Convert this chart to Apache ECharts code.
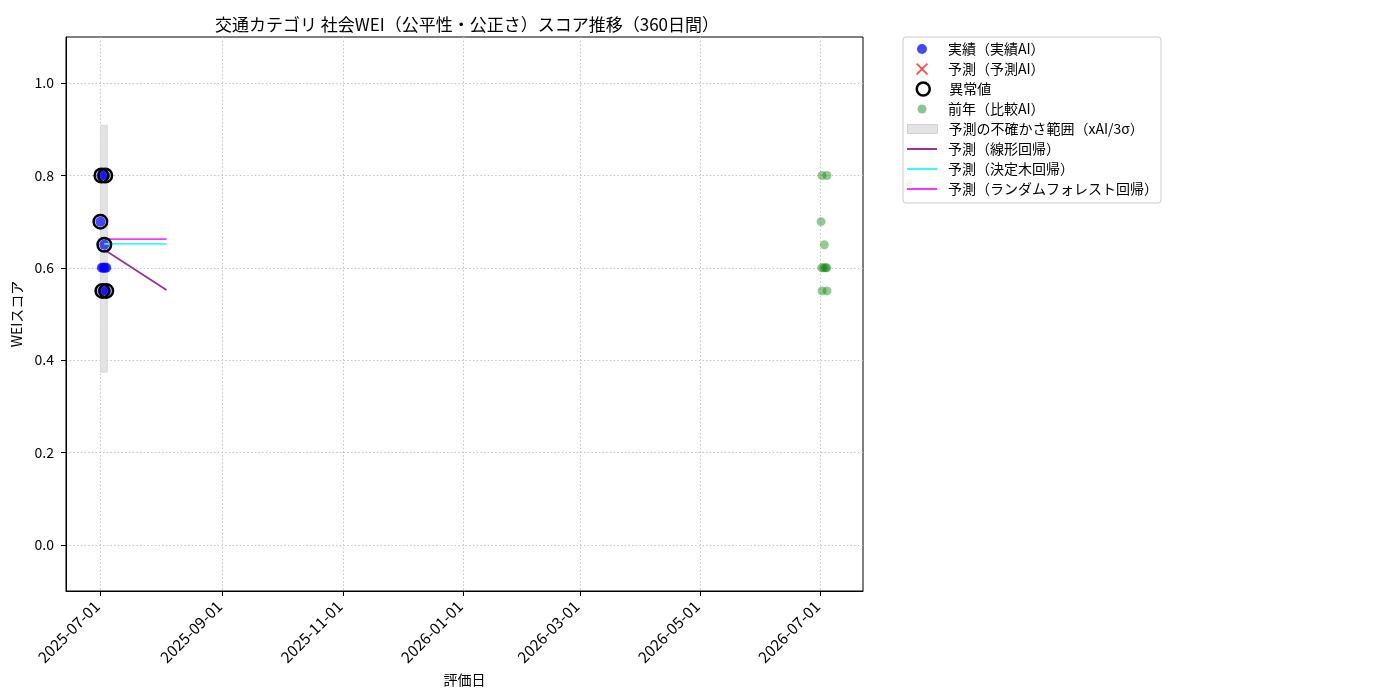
<!DOCTYPE html>
<html>
<head>
<meta charset="utf-8">
<script src="https://cdn.jsdelivr.net/npm/echarts@6/dist/echarts.min.js"></script>
<style>
  html, body { margin: 0; padding: 0; background: #fff; }
  #main { width: 1400px; height: 700px; }
</style>
</head>
<body>
<div id="main"></div>
<script>
// 実績（実績AI）
var actualDates = [
    '2025-07-01 12:00', '2025-07-03 12:00', '2025-07-01 00:00', '2025-07-03 00:00',
    '2025-07-01 18:00', '2025-07-02 12:00', '2025-07-03 06:00', '2025-07-04 00:00',
    '2025-07-02 00:00', '2025-07-04 00:00'
];
var actualValues = [0.80, 0.80, 0.70, 0.65, 0.60, 0.60, 0.60, 0.60, 0.55, 0.55];

// 異常値
var anomalyDates = [
    '2025-07-01 12:00', '2025-07-03 12:00', '2025-07-01 00:00', '2025-07-03 00:00',
    '2025-07-02 00:00', '2025-07-04 00:00'
];
var anomalyValues = [0.80, 0.80, 0.70, 0.65, 0.55, 0.55];

// 前年（比較AI）
var prevDates = [
    '2026-07-01 16:00', '2026-07-04 04:00', '2026-07-01 04:00', '2026-07-02 20:00',
    '2026-07-01 12:00', '2026-07-02 12:00', '2026-07-03 12:00', '2026-07-04 04:00',
    '2026-07-01 16:00', '2026-07-04 04:00'
];
var prevValues = [0.80, 0.80, 0.70, 0.65, 0.60, 0.60, 0.60, 0.60, 0.55, 0.55];

// 予測の不確かさ範囲
var bandDates = ['2025-07-01', '2025-07-04 12:00'];
var bandLower = [0.374, 0.374];
var bandUpper = [0.909, 0.909];

// 予測ライン
var forecastDates = ['2025-07-03', '2025-08-03 12:00'];
var linearValues = [0.639, 0.552];
var treeValues = [0.652, 0.652];
var forestValues = [0.662, 0.662];

var xMin = '2025-06-13 14:00';
var xMax = '2026-07-22 10:00';

function pairs(dates, values) {
    return dates.map(function (d, i) { return [d, values[i]]; });
}
function pad(n) { return n < 10 ? '0' + n : '' + n; }

var FONT = '"Noto Sans CJK JP", "Noto Sans", sans-serif';
var xPath = 'path://M1,0 L5,4 L9,0 L10,1 L6,5 L10,9 L9,10 L5,6 L1,10 L0,9 L4,5 L0,1 Z';
var gridLine = {show: true, showMinLine: false, showMaxLine: false, lineStyle: {color: '#c4c4c4', type: [1.5, 2.2], width: 1}};

var legendItems = [
    {name: '実績（実績AI）', y: 49, w: 10, h: 10, icon: 'circle', style: {color: 'rgba(0,0,255,0.72)'}},
    {name: '予測（予測AI）', y: 69, w: 12, h: 12, icon: xPath, style: {color: 'rgba(255,0,0,0.72)'}},
    {name: '異常値', y: 89, w: 13, h: 13, icon: 'circle', style: {color: 'rgba(0,0,0,0)', borderColor: '#000', borderWidth: 2.5}},
    {name: '前年（比較AI）', y: 109, w: 9, h: 9, icon: 'circle', style: {color: 'rgba(0,128,0,0.45)'}},
    {name: '予測の不確かさ範囲（xAI/3σ）', y: 129, w: 30, h: 9, icon: 'rect', style: {color: '#e3e3e3', borderColor: '#d0d0d0', borderWidth: 1}},
    {name: '予測（線形回帰）', y: 149, w: 30, h: 2, icon: 'rect', style: {color: '#993399'}},
    {name: '予測（決定木回帰）', y: 169, w: 30, h: 2, icon: 'rect', style: {color: '#33ffff'}},
    {name: '予測（ランダムフォレスト回帰）', y: 189, w: 30, h: 2, icon: 'rect', style: {color: '#ff33ff'}}
];

var legends = legendItems.map(function (it) {
    var left = 922 - it.w / 2;
    var gap = 948 - (left + it.w + 5);
    return {
        data: [{name: it.name, icon: it.icon}],
        left: left,
        top: it.y - 8,
        padding: 0,
        itemWidth: it.w,
        itemHeight: it.h,
        selectedMode: false,
        itemStyle: it.style,
        textStyle: {fontFamily: FONT, fontSize: 14, color: '#000', lineHeight: 16, padding: [0, 0, 0, gap]}
    };
});

var myChart = echarts.init(document.getElementById('main'));
var option = {
    animation: false,
    backgroundColor: '#fff',
    title: {
        text: '交通カテゴリ 社会WEI（公平性・公正さ）スコア推移（360日間）',
        left: 462,
        top: 11,
        textAlign: 'center',
        textStyle: {fontFamily: FONT, fontSize: 17, fontWeight: 'normal', color: '#000'}
    },
    legend: legends,
    graphic: [{
        type: 'rect',
        shape: {x: 903, y: 37, width: 258, height: 166, r: 3},
        style: {fill: 'rgba(255,255,255,0.8)', stroke: '#cccccc', lineWidth: 1},
        z: -1
    }],
    grid: {
        left: 66, right: 537, top: 37, bottom: 109,
        outerBoundsMode: 'none',
        containLabel: false,
        show: true, borderColor: '#000', borderWidth: 1
    },
    xAxis: {
        type: 'time',
        min: xMin,
        max: xMax,
        splitNumber: 6,
        name: '評価日',
        nameLocation: 'middle',
        nameGap: 76,
        nameTextStyle: {fontFamily: FONT, fontSize: 14, color: '#000'},
        axisLine: {onZero: false, lineStyle: {color: '#000', width: 1}},
        axisTick: {show: true, length: 5, lineStyle: {color: '#000'}},
        axisLabel: {
            rotate: 45,
            margin: 9,
            padding: [0, 5, 0, 0],
            fontFamily: FONT,
            fontSize: 15.5,
            color: '#000',
            showMinLabel: false,
            showMaxLabel: false,
            formatter: function (val) {
                var d = new Date(val);
                return d.getFullYear() + '-' + pad(d.getMonth() + 1) + '-' + pad(d.getDate());
            }
        },
        splitLine: gridLine
    },
    yAxis: {
        type: 'value',
        min: -0.1,
        max: 1.1,
        splitNumber: 6,
        name: 'WEIスコア',
        nameLocation: 'middle',
        nameGap: 40,
        nameTextStyle: {fontFamily: FONT, fontSize: 14, color: '#000'},
        axisLine: {show: true, onZero: false, lineStyle: {color: '#000', width: 1}},
        axisTick: {show: true, length: 5, lineStyle: {color: '#000'}},
        axisLabel: {
            fontFamily: FONT, fontSize: 14, color: '#000', margin: 12,
            showMinLabel: false, showMaxLabel: false,
            formatter: function (v) { return v.toFixed(1); }
        },
        splitLine: gridLine
    },
    series: [
        {
            name: '予測の不確かさ範囲（xAI/3σ）',
            type: 'custom',
            z: 1,
            itemStyle: {color: '#e3e3e3'},
            data: bandDates.map(function (d, i) { return [d, bandLower[i], bandUpper[i]]; }),
            renderItem: function (params, api) {
                if (params.dataIndex !== 0) return;
                var top = [], bottom = [];
                for (var i = 0; i < bandDates.length; i++) {
                    top.push(api.coord([bandDates[i], bandUpper[i]]));
                    bottom.unshift(api.coord([bandDates[i], bandLower[i]]));
                }
                return {
                    type: 'polygon',
                    shape: {points: top.concat(bottom)},
                    style: {fill: '#e3e3e3', stroke: '#dadada', lineWidth: 1}
                };
            }
        },
        {
            name: '実績（実績AI）',
            type: 'scatter',
            z: 3,
            symbolSize: 10,
            itemStyle: {color: 'rgba(0,0,255,0.7)', opacity: 1},
            data: pairs(actualDates, actualValues)
        },
        {
            name: '予測（予測AI）',
            type: 'scatter',
            symbol: xPath,
            symbolSize: 12,
            itemStyle: {color: 'rgba(255,0,0,0.72)', opacity: 1},
            data: []
        },
        {
            name: '予測（線形回帰）',
            type: 'line',
            z: 4,
            showSymbol: false,
            color: '#993399',
            lineStyle: {color: '#993399', width: 1.8},
            data: pairs(forecastDates, linearValues)
        },
        {
            name: '予測（決定木回帰）',
            type: 'line',
            z: 4,
            showSymbol: false,
            color: '#33ffff',
            lineStyle: {color: '#33ffff', width: 1.8},
            data: pairs(forecastDates, treeValues)
        },
        {
            name: '予測（ランダムフォレスト回帰）',
            type: 'line',
            z: 4,
            showSymbol: false,
            color: '#ff33ff',
            lineStyle: {color: '#ff33ff', width: 1.8},
            data: pairs(forecastDates, forestValues)
        },
        {
            name: '異常値',
            type: 'scatter',
            z: 5,
            symbolSize: 13.5,
            itemStyle: {color: 'rgba(0,0,0,0)', borderColor: '#000', borderWidth: 2.5, opacity: 1},
            data: pairs(anomalyDates, anomalyValues)
        },
        {
            name: '前年（比較AI）',
            type: 'scatter',
            z: 3,
            symbolSize: 9,
            itemStyle: {color: 'rgba(0,128,0,0.42)', opacity: 1},
            data: pairs(prevDates, prevValues)
        }
    ]
};
myChart.setOption(option, true);
</script>
</body>
</html>
